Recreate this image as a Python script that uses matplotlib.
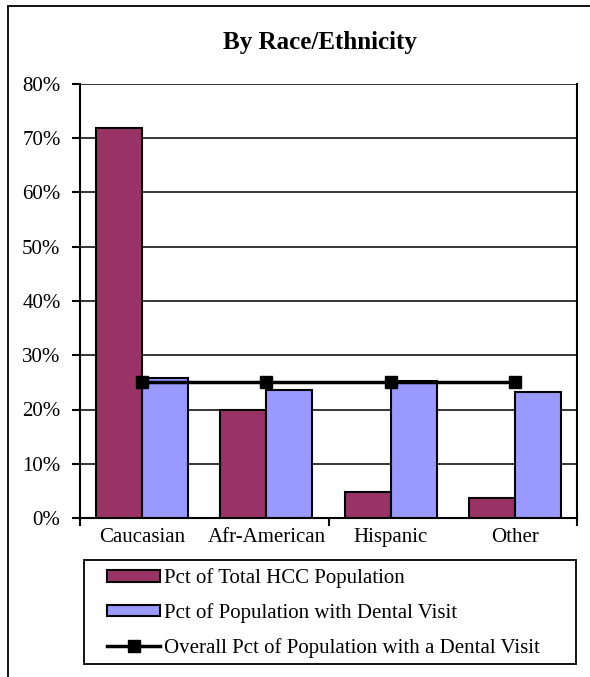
import numpy as np
import matplotlib
matplotlib.use('Agg')
from matplotlib import pyplot as plt
from matplotlib.patches import Rectangle
from matplotlib.ticker import PercentFormatter, FixedLocator

plt.rcParams['font.family'] = ['Liberation Serif', 'DejaVu Serif']

# 数据
categories = ['Caucasian', 'Afr-American', 'Hispanic', 'Other']
pct_total = [71.9, 19.9, 4.8, 3.7]        # Pct of Total HCC Population
pct_dental = [25.8, 23.6, 25.3, 23.2]     # Pct of Population with Dental Visit
overall = [25.1, 25.1, 25.1, 25.1]        # Overall Pct of Population with a Dental Visit

W, H = 590, 677
fig = plt.figure(figsize=(W / 100, H / 100), dpi=100)

# 外框
fig.patches.append(Rectangle((8 / W, -0.1), 1.2, 1 - 6 / H + 0.1, transform=fig.transFigure,
                             fill=False, edgecolor='black', linewidth=1.3))

ax = fig.add_axes([80 / W, (H - 518) / H, (577 - 80) / W, (518 - 84) / H])

x = np.arange(len(categories))
bw = 0.37
b1 = ax.bar(x - bw / 2, pct_total, bw, color='#993366', edgecolor='black', linewidth=1.5,
            label='Pct of Total HCC Population', zorder=3)
b2 = ax.bar(x + bw / 2, pct_dental, bw, color='#9999FF', edgecolor='black', linewidth=1.5,
            label='Pct of Population with Dental Visit', zorder=3)
l1, = ax.plot(x, overall, color='black', linewidth=2.5, marker='s', markersize=8,
              label='Overall Pct of Population with a Dental Visit', zorder=4)

ax.set_xlim(-0.5, len(categories) - 0.5)
ax.set_ylim(0, 80)
ax.yaxis.set_major_locator(FixedLocator(np.arange(0, 81, 10)))
ax.yaxis.set_major_formatter(PercentFormatter(decimals=0))
ax.grid(axis='y', color='black', linewidth=1.1, zorder=0)
ax.set_axisbelow(True)

# 刻度线每两类一个, 标签在类中间
ax.set_xticks([-0.5, 1.5, 3.5], labels=[''] * 3)
ax.set_xticks(x, labels=categories, minor=True)
ax.tick_params(axis='x', which='major', direction='out', length=6, width=1.5)
ax.tick_params(axis='x', which='minor', length=0, pad=7, labelsize=15)
ax.tick_params(axis='y', direction='out', length=6, width=1.5, pad=8, labelsize=15)

for side in ['left', 'bottom', 'right']:
    ax.spines[side].set_linewidth(1.5)
ax.spines['top'].set_visible(False)

fig.text(320 / W, 1 - 42 / H, 'By Race/Ethnicity', ha='center', va='center',
         fontsize=18, fontweight='bold')

# 图例框
fig.patches.append(Rectangle((84 / W, 1 - 664 / H), (576 - 84) / W, (664 - 560) / H,
                             transform=fig.transFigure, fill=False,
                             edgecolor='black', linewidth=1.3))
leg = fig.legend([b1, b2, l1], [b1.get_label(), b2.get_label(), l1.get_label()],
                 loc='center left', bbox_to_anchor=(107 / W, 1 - 613 / H),
                 borderaxespad=0, borderpad=0, frameon=False, fontsize=15,
                 handlelength=2.55, handleheight=0.5, handletextpad=0.2,
                 labelspacing=0.72)

fig.savefig('out.png', dpi=100)
